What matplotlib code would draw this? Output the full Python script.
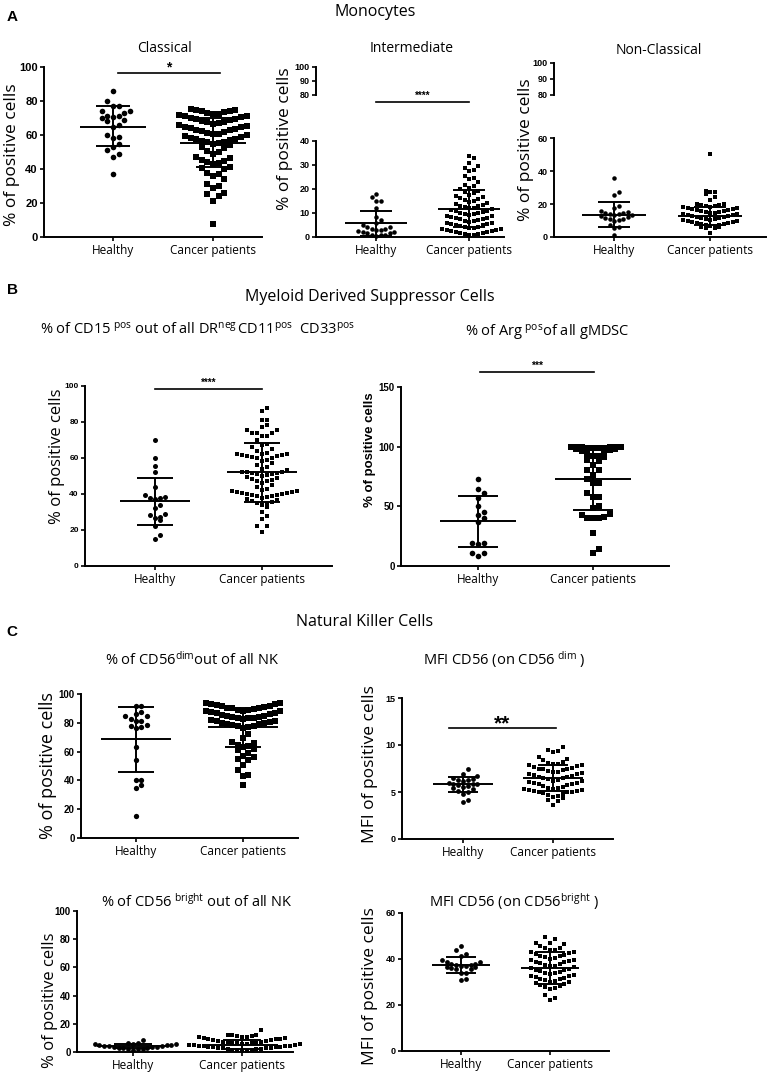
import numpy as np
import matplotlib
matplotlib.use('Agg')
import matplotlib.pyplot as plt

plt.rcParams['font.family'] = ['Open Sans', 'DejaVu Sans']
plt.rcParams['mathtext.fontset'] = 'custom'
plt.rcParams['mathtext.rm'] = 'Open Sans'
plt.rcParams['mathtext.it'] = 'Open Sans:italic'
plt.rcParams['mathtext.bf'] = 'Open Sans:bold'

W, H = 772, 1077
groups = ['Healthy', 'Cancer patients']

# ---- values ----
classical_healthy = [86, 80, 77, 77, 74, 74, 73, 71, 71, 70.5, 70, 69, 68, 66, 65, 60, 59, 58.5,
                     55, 53, 51, 49, 47, 37]
classical_cancer = [75.2, 74.8, 74.5, 74.1, 73.9, 73.4, 73.0, 72.6, 72.1, 71.8, 71.2, 70.9, 70.4,
                    70.1, 69.7, 69.2, 68.8, 68.3, 67.9, 67.4, 67.0, 66.4, 65.9, 65.5, 65.0, 64.6,
                    64.1, 63.8, 63.2, 62.7, 62.3, 61.8, 61.2, 60.8, 60.3, 59.9, 59.4, 58.8, 58.4,
                    57.9, 57.5, 57.0, 56.6, 56.1, 55.7, 55.2, 54.6, 53.9, 53.1, 52.2, 50.3, 49.8,
                    48.6, 46.9, 46.2, 45.4, 44.8, 44.1, 43.5, 42.9, 41.2, 40.6, 40.1, 37.4, 36.8,
                    36.0, 34.2, 31.1, 29.8, 28.7, 26.0, 25.2, 24.1, 21.0, 7.6]
intermediate_healthy = [18, 16.5, 15, 15, 12, 8.5, 7, 6, 5, 4, 4, 3.5, 3.5, 3, 3, 2.5, 2, 2,
                        1.5, 1.5, 1, 1, 0.8, 0.5]
intermediate_cancer = [33.8, 33.0, 30.9, 29.7, 28.6, 28.1, 27.3, 25.4, 24.6, 24.0, 22.8, 21.7,
                       21.1, 20.6, 19.8, 19.3, 18.7, 18.2, 17.6, 17.1, 16.7, 16.3, 15.8, 15.4,
                       15.0, 14.6, 14.2, 13.9, 13.5, 13.1, 12.8, 12.5, 12.2, 11.9, 11.6, 11.3,
                       11.0, 10.7, 10.4, 10.2, 9.9, 9.6, 9.4, 9.1, 8.8, 8.6, 8.3, 8.0, 7.8, 7.5,
                       7.3, 7.0, 6.8, 6.5, 6.3, 6.0, 5.8, 5.5, 5.3, 5.0, 4.8, 4.6, 4.3, 4.1, 3.9,
                       3.6, 3.4, 3.2, 3.0, 2.8, 2.6, 2.4, 2.2, 2.0, 1.8, 1.6, 1.4, 1.2, 1.0, 0.8]
nonclassical_healthy = [36, 27, 25.5, 19, 17.5, 15.5, 15, 14.8, 14.5, 14.2, 14, 13.6, 13.2, 12.5,
                        12, 11.5, 11, 10.8, 10.5, 10, 7.5, 6, 5.2, 1]
nonclassical_cancer = [50.3, 28.0, 27.4, 27.0, 26.2, 24.0, 22.4, 20.3, 19.8, 19.5, 19.1, 18.9,
                       18.5, 18.3, 17.9, 17.6, 17.4, 17.0, 16.8, 16.4, 16.1, 15.9, 15.5, 15.3,
                       14.9, 14.7, 14.3, 14.0, 13.8, 13.4, 13.1, 12.9, 12.5, 12.3, 11.9, 11.7,
                       11.3, 11.0, 10.8, 10.4, 10.1, 9.9, 9.5, 9.3, 8.9, 8.7, 8.3, 8.0, 7.8, 7.4,
                       7.1, 6.9, 6.5, 6.2, 5.9, 5.6, 5.2, 2.5]
mdsc_healthy = [70, 60, 55.5, 52, 44, 39.5, 38.5, 38, 37.5, 38, 34, 32, 29, 28.5, 27.5, 25.5,
                26.5, 22.5, 17, 15]
mdsc_cancer = [88, 86, 81, 81, 78.5, 77, 75.5, 75.5, 74, 74, 74, 72.5, 72.5, 70, 68, 67, 66, 65,
               64, 63, 62.5, 62, 62, 61.5, 61.5, 61, 61, 60.5, 60, 60, 59, 58.5, 57, 56, 55, 54,
               53.5, 52.5, 52, 52, 51.5, 51.5, 51, 51, 50.5, 50, 49.5, 49, 48.5, 48, 47.5, 47,
               46, 45, 44, 43, 42, 41.5, 41.5, 41, 41, 40.5, 40.5, 40, 40, 39.5, 39.5, 39, 39,
               38.5, 38, 37, 36.5, 36, 35.5, 35, 34.5, 34, 33, 30, 28, 26, 22, 22, 19]
arg_healthy = [73, 64.5, 61.5, 57, 50, 45, 42.5, 40.5, 36.5, 19, 18.5, 19.5, 11, 8.5, 10.5]
arg_cancer = [100, 100, 99.5, 99, 98.5, 98, 98, 98.5, 99, 99.5, 100, 100, 94, 92, 96, 88.5, 85,
              88, 91, 92.5, 94.5, 97, 80.5, 80.5, 76, 73, 69.5, 69.5, 61.5, 58, 57.5, 50, 49,
              42.5, 40.5, 40, 40, 41, 43.5, 28, 14, 10.5]
dim_healthy = [91.5, 92, 86, 85, 85, 87.5, 81.5, 81.5, 82.5, 78, 76.5, 77, 78.5, 63.5, 54.5, 40,
               40, 36.5, 35, 15.5]
dim_cancer = [94, 93.5, 93, 93, 92.5, 92, 91.5, 91, 90.5, 90, 90, 89.5, 89, 89, 88.5, 88, 88,
              87.5, 87, 86.5, 86, 85.5, 85, 84.5, 84, 84, 83.5, 83, 83, 82.5, 82, 81.5, 81, 80.5,
              80, 80, 79.5, 79, 78.5, 78, 77.5, 77, 76.5, 72.5, 69.5, 67, 66, 64.5, 64, 63.5, 62,
              61, 59, 57, 56, 55, 54, 50.5, 47, 43.5, 43, 37]
mfi_dim_healthy = [7.4, 6.9, 6.7, 6.5, 6.4, 6.3, 6.3, 6.2, 6.0, 5.9, 5.8, 5.8, 5.7, 5.6, 5.5,
                   5.4, 5.3, 5.1, 5.0, 4.8, 4.2, 3.9]
mfi_dim_cancer = [9.8, 9.5, 9.4, 9.3, 8.7, 8.5, 8.4, 8.2, 8.1, 8.0, 7.95, 7.9, 7.85, 7.8, 7.7,
                  7.6, 7.5, 7.45, 7.4, 7.3, 7.2, 7.15, 7.1, 7.0, 6.95, 6.9, 6.8, 6.7, 6.6, 6.55,
                  6.5, 6.45, 6.4, 6.3, 6.2, 6.15, 6.1, 6.0, 5.95, 5.9, 5.8, 5.7, 5.6, 5.5, 5.45,
                  5.4, 5.35, 5.3, 5.25, 5.2, 5.15, 5.1, 5.05, 5.0, 4.95, 4.9, 4.8, 4.7, 4.6, 4.5,
                  4.4, 4.2, 4.0, 3.6]
bright_healthy = [8.5, 6.5, 6.2, 6, 5.8, 5.5, 5.2, 5, 4.8, 4.5, 4.2, 4, 3.8, 3.5, 3.3, 3, 2.8,
                  2.5, 2.2, 2, 1.8, 1.5]
bright_cancer = [15.4, 12.4, 12.1, 11.8, 11.6, 11.2, 10.9, 10.7, 10.3, 10.0, 9.8, 9.4, 9.1, 8.9,
                 8.5, 8.2, 8.0, 7.6, 7.3, 7.1, 6.8, 6.6, 6.4, 6.2, 6.1, 5.8, 5.6, 5.5, 5.2, 5.0,
                 4.9, 4.6, 4.4, 4.3, 4.0, 3.8, 3.7, 3.4, 3.2, 3.1, 2.8, 2.6, 2.5, 2.2, 2.0, 1.9,
                 1.6, 1.4, 1.3, 1.0, 0.8]
mfi_bright_healthy = [45.5, 44, 42, 41.5, 39.5, 38.5, 38.5, 38, 38, 37.5, 37.5, 37, 37, 36.5,
                      36.5, 36, 35.5, 35.5, 34, 34, 31.5, 31]
mfi_bright_cancer = [49.5, 48.5, 47, 46.8, 46.5, 45.5, 45, 44.8, 44, 43.8, 43.2, 42.9, 42.5,
                     42.2, 41.8, 41.5, 41.1, 40.8, 40.4, 40.1, 39.7, 39.5, 39.1, 38.8, 38.5, 38.1,
                     37.8, 37.5, 37.1, 36.8, 36.4, 36.1, 35.8, 35.4, 35.1, 34.8, 34.5, 34.1,
                     33.8, 33.5, 33.1, 32.8, 32.4, 32.1, 31.8, 31.4, 31.1, 30.8, 30.4, 30.1,
                     29.8, 29.5, 29.1, 28.8, 28.4, 28.0, 27.5, 26.8, 24.5, 23.0, 22.3]

# mean and SD bars (centre, low, high) for healthy / cancer
summary = {
    'classical': [(65, 53.5, 77), (55.5, 41, 70)],
    'intermediate': [(5.7, 0.5, 11), (11.6, 4.1, 19.6)],
    'nonclassical': [(13.3, 6, 21), (12.7, 7.2, 18.2)],
    'mdsc': [(36, 23, 49), (52, 35.5, 68.5)],
    'arg': [(37.5, 16, 58.5), (73, 47, 99)],
    'dim': [(68.5, 45.7, 91.3), (77, 63.5, 90.5)],
    'mfi_dim': [(5.8, 4.95, 6.6), (6.5, 5.1, 7.9)],
    'bright': [(4, 2.5, 5.5), (5, 2, 8.5)],
    'mfi_bright': [(37.3, 33.8, 41), (36, 29, 43)],
}

fig = plt.figure(figsize=(W / 100, H / 100), dpi=100)


def px_axes(left, top, right, bottom):
    ax = fig.add_axes([left / W, 1 - bottom / H, (right - left) / W, (bottom - top) / H])
    ax.patch.set_visible(False)
    return ax


def fig_text(x, y, s, **kw):
    fig.text(x / W, 1 - y / H, s, ha='center', va='center', **kw)


def swarm(ax, x0, values, size_px, k):
    # Prism-like rows: sorted values, each row k symbols tall, filled centre-out
    vals = np.asarray(values, dtype=float)
    ys = ax.transData.transform(np.column_stack([np.full(len(vals), x0), vals]))[:, 1]
    cols = np.zeros(len(vals))
    row_start = None
    n = 0
    for i in np.argsort(vals, kind='stable'):
        if row_start is None or ys[i] - row_start >= k * size_px:
            row_start = ys[i]
            n = 0
        cols[i] = (n + 1) // 2 * (1 if n % 2 else -1)
        n += 1
    unit = ax.transData.transform((1, 0))[0] - ax.transData.transform((0, 0))[0]
    return cols * size_px / unit


def make_panel(box, ylim, yticks, tsize, data, marker_px, k, summ, upper=None):
    L, T, R, B, xh, xc = box
    ax = px_axes(L, T, R, B)
    unit = xc - xh
    ax.set_xlim((L - xh) / unit, (R - xh) / unit)
    ax.set_ylim(*ylim)
    for s in ['top', 'right']:
        ax.spines[s].set_visible(False)
    for s in ['left', 'bottom']:
        ax.spines[s].set_linewidth(1.4)
    ax.set_yticks(yticks)
    ax.set_yticklabels([str(t) for t in yticks], fontfamily='Liberation Sans',
                       fontweight='bold', fontsize=tsize)
    ax.set_xticks([0, 1])
    ax.set_xticklabels(groups, fontsize=8.5)
    ax.tick_params(direction='out', length=3, width=1.2, pad=1.5)
    ax.tick_params(axis='x', pad=2)
    for x0, vals, m, kk, (c, lo, hi) in zip([0, 1], data, ['o', 's'], k, summ):
        off = swarm(ax, x0, vals, marker_px, kk)
        ax.scatter(x0 + off, vals, marker=m, s=(marker_px * 0.72) ** 2, c='black',
                   linewidths=0, clip_on=False, zorder=3)
        ax.hlines(c, x0 - 0.33, x0 + 0.33, color='black', lw=1.4, zorder=4)
        ax.hlines([lo, hi], x0 - 0.17, x0 + 0.17, color='black', lw=1.4, zorder=4)
        ax.vlines(x0, lo, hi, color='black', lw=1.4, zorder=4)
    if upper is not None:
        uT, uB = upper
        ua = px_axes(L, uT, R, uB)
        ua.set_xlim(ax.get_xlim())
        ua.set_ylim(80, 100)
        for s in ['top', 'right', 'bottom']:
            ua.spines[s].set_visible(False)
        ua.spines['left'].set_linewidth(1.4)
        ua.set_xticks([])
        ua.set_yticks([80, 90, 100])
        ua.set_yticklabels(['80', '90', '100'], fontfamily='Liberation Sans',
                           fontweight='bold', fontsize=tsize)
        ua.tick_params(direction='out', length=3, width=1.2, pad=1.5)
    return ax


def sig(ax, x1, x2, y, label, size=8, gap=0.0):
    ax.plot([x1, x2], [y, y], color='black', lw=1.2, clip_on=False)
    ax.annotate(label, ((x1 + x2) / 2, y), xytext=(0, 1 + gap), textcoords='offset points',
                ha='center', va='bottom', fontsize=size, fontweight='bold',
                fontfamily='Liberation Sans', annotation_clip=False)


# ---- A: monocytes ----
fig_text(12, 17, 'A', fontsize=11, fontweight='bold', fontfamily='Liberation Sans')
fig_text(375, 12, 'Monocytes', fontsize=11.5)
fig_text(165, 49, 'Classical', fontsize=10)
fig_text(412, 49, 'Intermediate', fontsize=10)
fig_text(659, 50, 'Non-Classical', fontsize=10)

ax1 = make_panel((44, 67, 262, 237, 113, 213), (0, 100), [0, 20, 40, 60, 80, 100], 8,
                 [classical_healthy, classical_cancer], 5.6, (1.6, 1.7), summary['classical'])
sig(ax1, 0.05, 1.07, 96.5, '*', size=10, gap=-2)
ax2 = make_panel((316, 141, 504, 237, 376, 469), (0, 40), [0, 10, 20, 30, 40], 6.5,
                 [intermediate_healthy, intermediate_cancer], 4.5, (1.2, 1.4),
                 summary['intermediate'], upper=(67, 95))
sig(ax2, 0, 1, 56.2, '****', size=7)
ax3 = make_panel((554, 138, 766, 237, 614, 710), (0, 60), [0, 20, 40, 60], 6.5,
                 [nonclassical_healthy, nonclassical_cancer], 4.5, (1.2, 1.4),
                 summary['nonclassical'], upper=(63, 95))
fig_text(12, 155, '% of positive cells', fontsize=12.5, rotation=90)
fig_text(285, 139, '% of positive cells', fontsize=12.5, rotation=90)
fig_text(526, 150, '% of positive cells', fontsize=12.5, rotation=90)

# ---- B: MDSC ----
fig_text(12, 290, 'B', fontsize=11, fontweight='bold', fontfamily='Liberation Sans')
fig_text(370, 297, 'Myeloid Derived Suppressor Cells', fontsize=11.5)
fig_text(197, 330, r'% of CD15$^{\ \mathrm{pos}}$ out of all DR$^{\mathrm{neg}\,}$CD11$^{\mathrm{pos}}$'
         r'  CD33$^{\mathrm{pos}}$', fontsize=10.5)
fig_text(547, 333, r'% of Arg$^{\ \mathrm{pos}}$of all gMDSC', fontsize=10.5)
ax4 = make_panel((85, 386, 332, 566, 155, 262), (0, 100), [0, 20, 40, 60, 80, 100], 6,
                 [mdsc_healthy, mdsc_cancer], 5.0, (1.2, 1.4), summary['mdsc'])
sig(ax4, 0, 1, 98.3, '****', size=7)
ax5 = make_panel((401, 387, 669, 566, 478, 593), (0, 150), [0, 50, 100, 150], 7,
                 [arg_healthy, arg_cancer], 5.6, (1.2, 1.3), summary['arg'])
sig(ax5, 0.02, 1.01, 162.6, '***', size=7.5)
fig_text(57, 456, '% of positive cells', fontsize=12, rotation=90)
fig_text(370, 450, '% of positive cells', fontsize=9.5, rotation=90, fontweight='bold',
         fontfamily='Liberation Sans')

# ---- C: NK cells ----
fig_text(12, 632, 'C', fontsize=11, fontweight='bold', fontfamily='Liberation Sans')
fig_text(365, 622, 'Natural Killer Cells', fontsize=11.5)
fig_text(192, 660, r'% of CD56$^{\mathrm{dim}}$out of all NK', fontsize=10.5)
fig_text(504, 660, r'MFI CD56 (on CD56$^{\ \mathrm{dim}}$ )', fontsize=10.5)
fig_text(197, 902, r'% of CD56$^{\ \mathrm{bright}}$ out of all NK', fontsize=10.5)
fig_text(514, 902, r'MFI CD56 (on CD56$^{\mathrm{bright}}$ )', fontsize=10.5)

ax6 = make_panel((81, 694, 298, 838, 136, 243), (0, 100), [0, 20, 40, 60, 80, 100], 7,
                 [dim_healthy, dim_cancer], 5.3, (1.2, 1.6), summary['dim'])
ax7 = make_panel((402, 698, 613, 839, 463, 553), (0, 15), [0, 5, 10, 15], 6.5,
                 [mfi_dim_healthy, mfi_dim_cancer], 4.8, (1.3, 1.6), summary['mfi_dim'])
sig(ax7, -0.16, 1.03, 11.8, '**', size=15, gap=-5)
ax8 = make_panel((77, 911, 293, 1052, 133, 242), (0, 100), [0, 20, 40, 60, 80, 100], 7,
                 [bright_healthy, bright_cancer], 4.8, (1.3, 1.4), summary['bright'])
ax9 = make_panel((402, 913, 609, 1051, 461, 550), (0, 60), [0, 20, 40, 60], 6.5,
                 [mfi_bright_healthy, mfi_bright_cancer], 4.8, (1.3, 1.5),
                 summary['mfi_bright'])
fig_text(48, 766, '% of positive cells', fontsize=13, rotation=90)
fig_text(370, 764, 'MFI of positive cells', fontsize=12.5, rotation=90)
fig_text(50, 1000, '% of positive cells', fontsize=12, rotation=90)
fig_text(370, 986, 'MFI of positive cells', fontsize=12.5, rotation=90)

fig.savefig('out.png', dpi=100)
